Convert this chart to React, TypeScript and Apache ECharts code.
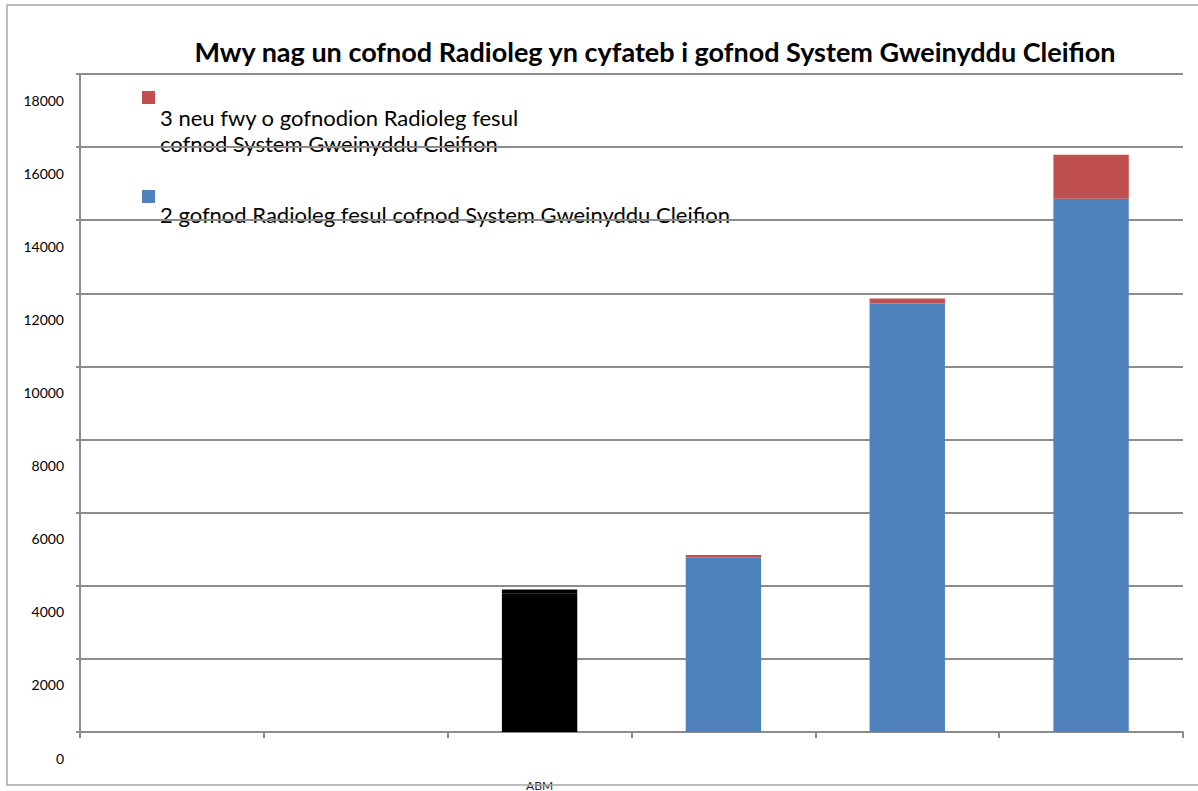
import React, { useEffect, useRef } from "react";
import * as echarts from "echarts";

const title = "Mwy nag un cofnod Radioleg yn cyfateb i gofnod System Gweinyddu Cleifion";
const categories = ["", "", "ABM", "", "", ""];
const seriesNames = [
  "2 gofnod Radioleg fesul cofnod System Gweinyddu Cleifion",
  "3 neu fwy o gofnodion Radioleg fesul\ncofnod System Gweinyddu Cleifion",
];
const twoRecords = [0, 0, 3780, 4780, 11720, 14590];
const threePlus = [0, 0, 120, 60, 140, 1200];
const highlightIndex = 2;
const yTicks = [0, 2000, 4000, 6000, 8000, 10000, 12000, 14000, 16000, 18000];

const BLUE = "#4F81BD";
const RED = "#C0504D";
const GRID = "#8c8c8c";
const FONT = "Lato, 'Open Sans', sans-serif";

export default function App() {
  const ref = useRef<HTMLDivElement>(null);
  useEffect(() => {
    if (!ref.current) return;
    const chart = echarts.init(ref.current, null, { renderer: "svg" });
    const blueData = twoRecords.map((v, i) =>
      i === highlightIndex ? { value: v, itemStyle: { color: "#000" } } : v
    );
    const redData = threePlus.map((v, i) =>
      i === highlightIndex
        ? { value: v, itemStyle: { color: "#000", borderColor: "#000", borderWidth: 1.5 } }
        : v
    );
    chart.setOption({
      animation: false,
      backgroundColor: "#fff",
      textStyle: { fontFamily: FONT },
      title: {
        text: title,
        left: 650,
        textAlign: "center",
        top: 33,
        textStyle: { fontFamily: FONT, fontWeight: "bold", fontSize: 27, color: "#000" },
      },
      grid: { left: 80, right: 15, top: 74, bottom: 59, containLabel: false },
      xAxis: {
        type: "category",
        data: categories,
        axisLine: { lineStyle: { color: GRID, width: 2 } },
        axisTick: { show: true, length: 6, alignWithLabel: false, lineStyle: { color: GRID, width: 2 } },
        axisLabel: { interval: 0, margin: 47, fontSize: 12, color: "#222", fontFamily: FONT },
        splitLine: { show: false },
      },
      yAxis: {
        type: "value",
        min: 0,
        max: yTicks[yTicks.length - 1],
        interval: yTicks[1] - yTicks[0],
        axisLine: { show: true, lineStyle: { color: GRID, width: 2 } },
        axisTick: { show: true, length: 4, lineStyle: { color: GRID, width: 2 } },
        axisLabel: {
          margin: 16,
          fontSize: 14,
          color: "#000",
          fontFamily: FONT,
          showMinLabel: true,
          showMaxLabel: true,
          formatter: (v: number) => "{s| }\n{v|" + String(v) + "}",
          rich: {
            s: { lineHeight: 52, fontSize: 14, fontFamily: FONT },
            v: { lineHeight: 14, fontSize: 14, fontFamily: FONT, color: "#000" },
          },
        },
        splitLine: { show: true, lineStyle: { color: GRID, width: 2 } },
      },
      series: [
        {
          name: seriesNames[0],
          type: "bar",
          stack: "total",
          data: blueData,
          barWidth: "41%",
          itemStyle: { color: BLUE },
        },
        {
          name: seriesNames[1],
          type: "bar",
          stack: "total",
          data: redData,
          barWidth: "41%",
          itemStyle: { color: RED },
        },
      ],
      graphic: [
        {
          type: "polyline",
          shape: { points: [[1198, 5], [7, 5], [7, 785], [1198, 785]] },
          style: { fill: "none", stroke: "#a6a6a6", lineWidth: 1.5 },
          z: 100,
          silent: true,
        },
        {
          type: "rect",
          shape: { x: 142, y: 91, width: 13, height: 13 },
          style: { fill: RED },
        },
        {
          type: "text",
          x: 160,
          y: 104,
          style: {
            text: seriesNames[1],
            font: "22px " + FONT,
            lineHeight: 26,
            fill: "#000",
          },
        },
        {
          type: "rect",
          shape: { x: 142, y: 190, width: 13, height: 13 },
          style: { fill: BLUE },
        },
        {
          type: "text",
          x: 160,
          y: 201,
          style: {
            text: seriesNames[0],
            font: "22px " + FONT,
            lineHeight: 26,
            fill: "#000",
          },
        },
      ],
    });
    return () => chart.dispose();
  }, []);
  return (
    <div
      ref={ref}
      style={{ position: "fixed", left: 0, top: 0, width: 1198, height: 791 }}
    />
  );
}
